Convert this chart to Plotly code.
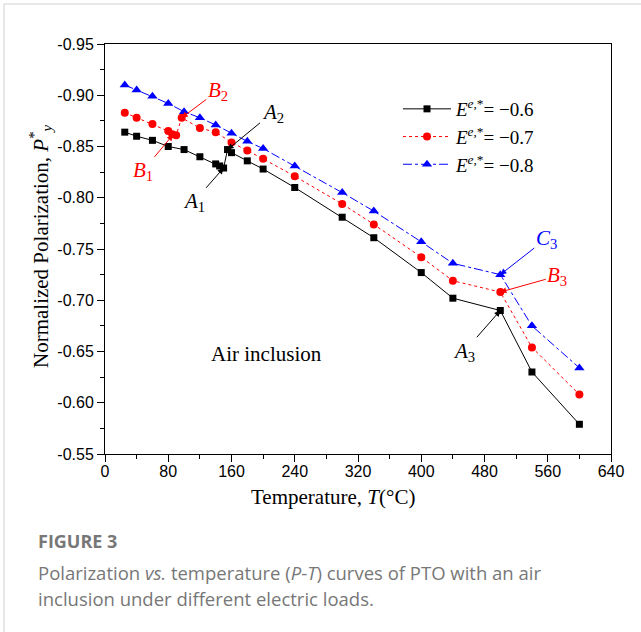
import plotly.graph_objects as go

# ---------------- data ----------------
T_a = [25, 40, 60, 80, 100, 120, 140, 145, 150, 155, 160, 180, 200, 240, 300, 340, 400, 440, 500, 540, 600]
P_a = [-0.864, -0.860, -0.856, -0.850, -0.847, -0.840, -0.833, -0.831, -0.829, -0.847, -0.844, -0.836,
       -0.828, -0.810, -0.781, -0.761, -0.727, -0.702, -0.690, -0.630, -0.579]

T_b = [25, 40, 60, 80, 85, 90, 97, 120, 140, 160, 180, 200, 240, 300, 340, 400, 440, 500, 540, 600]
P_b = [-0.883, -0.878, -0.872, -0.865, -0.862, -0.861, -0.878, -0.868, -0.864, -0.854, -0.846, -0.838,
       -0.821, -0.794, -0.774, -0.742, -0.719, -0.708, -0.654, -0.608]

T_c = [25, 40, 60, 80, 100, 120, 140, 160, 180, 200, 240, 300, 340, 400, 440, 500, 540, 600]
P_c = [-0.910, -0.905, -0.899, -0.892, -0.884, -0.878, -0.871, -0.863, -0.855, -0.848, -0.831, -0.805,
       -0.787, -0.757, -0.736, -0.725, -0.675, -0.634]

series_names = ["<i>E</i><sup><i>e</i>,*</sup>= \u22120.6",
                "<i>E</i><sup><i>e</i>,*</sup>= \u22120.7",
                "<i>E</i><sup><i>e</i>,*</sup>= \u22120.8"]

x_ticks = [0, 80, 160, 240, 320, 400, 480, 560, 640]
y_ticks = [-0.95, -0.90, -0.85, -0.80, -0.75, -0.70, -0.65, -0.60, -0.55]

# annotation labels: (text, x, y, ax, ay, color)
labels = [
    ("<i>B</i><sub>1</sub>", 86, -0.8615, -30, 36, "red"),
    ("<i>B</i><sub>2</sub>", 97, -0.878, 36, -27, "red"),
    ("<i>A</i><sub>2</sub>", 155, -0.847, 45, -37, "black"),
    ("<i>A</i><sub>1</sub>", 150, -0.829, -30, 34, "black"),
    ("<i>C</i><sub>3</sub>", 500, -0.725, 46, -36, "blue"),
    ("<i>B</i><sub>3</sub>", 500, -0.708, 57, -16, "red"),
    ("<i>A</i><sub>3</sub>", 500, -0.690, -36, 41, "black"),
]

SERIF = "Liberation Serif"
SANS = "Liberation Sans"
CAP = "Open Sans"

W, H = 641, 632
L, R, TOP, BOT = 105, 611, 44, 454


def px(x):
    return (x - L) / (R - L)


def py(y):
    return (BOT - y) / (BOT - TOP)


fig = go.Figure()
fig.add_trace(go.Scatter(x=T_a, y=P_a, mode="lines+markers", name=series_names[0],
                         line=dict(color="black", width=1),
                         marker=dict(symbol="square", size=7, color="black")))
fig.add_trace(go.Scatter(x=T_b, y=P_b, mode="lines+markers", name=series_names[1],
                         line=dict(color="red", width=1, dash="dot"),
                         marker=dict(symbol="circle", size=8, color="red")))
fig.add_trace(go.Scatter(x=T_c, y=P_c, mode="lines+markers", name=series_names[2],
                         line=dict(color="blue", width=1, dash="dashdot"),
                         marker=dict(symbol="triangle-up", size=9, color="blue")))

for text, x, y, ax, ay, col in labels:
    fig.add_annotation(x=x, y=y, xref="x", yref="y", text=text, showarrow=True,
                       ax=ax, ay=ay, arrowhead=2, arrowsize=1.2, arrowwidth=1,
                       arrowcolor=col, font=dict(family=SERIF, size=21, color=col))

fig.add_annotation(x=204, y=-0.648, xref="x", yref="y", text="Air inclusion", showarrow=False,
                   font=dict(family=SERIF, size=21, color="black"))

# axis titles
fig.add_annotation(x=px(333), y=py(497), xref="paper", yref="paper", text="Temperature, <i>T</i>(°C)",
                   xanchor="center", yanchor="middle",
                   showarrow=False, font=dict(family=SERIF, size=21, color="black"))
fig.add_annotation(x=px(40), y=py(246), xref="paper", yref="paper",
                   text="Normalized Polarization, <i>P</i><sup>*</sup><sub><i>y</i></sub>",
                   xanchor="center", yanchor="middle",
                   textangle=-90, showarrow=False, font=dict(family=SERIF, size=21, color="black"))

# caption
fig.add_annotation(x=px(36), y=py(541), xref="paper", yref="paper", text="<b>FIGURE 3</b>",
                   xanchor="left", yanchor="middle",
                   showarrow=False, font=dict(family=CAP, size=18, color="#777777"))
fig.add_annotation(x=px(36), y=py(572), xref="paper", yref="paper",
                   text="Polarization <i>vs.</i> temperature (<i>P</i>-<i>T</i>) curves of PTO with an air",
                   xanchor="left", yanchor="middle", showarrow=False,
                   font=dict(family=CAP, size=18.5, color="#777777"))
fig.add_annotation(x=px(36), y=py(598), xref="paper", yref="paper",
                   text="inclusion under different electric loads.",
                   xanchor="left", yanchor="middle", showarrow=False,
                   font=dict(family=CAP, size=18.5, color="#777777"))

fig.update_layout(
    width=W, height=H,
    margin=dict(l=L, r=W - R, t=TOP, b=H - BOT),
    paper_bgcolor="white", plot_bgcolor="white",
    showlegend=True,
    legend=dict(x=px(398), y=py(90), xanchor="left", yanchor="top", bgcolor="rgba(0,0,0,0)",
                itemwidth=48,
                font=dict(family=SERIF, size=19, color="black"), tracegroupgap=0),
)

fig.update_xaxes(range=[0, 640], tickvals=x_ticks, ticktext=[str(v) for v in x_ticks],
                 showline=True, linecolor="black", linewidth=1, mirror=True,
                 ticks="outside", ticklen=7, tickcolor="black", showgrid=False, zeroline=False,
                 tickfont=dict(family=SANS, size=16, color="black"), ticklabelstandoff=-4,
                 minor=dict(ticks="outside", ticklen=4, dtick=40, tickcolor="black", showgrid=False))
fig.update_yaxes(range=[-0.55, -0.95], tickvals=y_ticks, ticktext=["%.2f" % v for v in y_ticks],
                 showline=True, linecolor="black", linewidth=1, mirror=True,
                 ticks="outside", ticklen=7, tickcolor="black", showgrid=False, zeroline=False,
                 tickfont=dict(family=SANS, size=16, color="black"),
                 minor=dict(ticks="outside", ticklen=4, dtick=0.025, tickcolor="black", showgrid=False))

# light frame of the card
fig.add_shape(type="line", xref="paper", yref="paper", x0=px(4), x1=px(641),
              y0=py(4), y1=py(4), line=dict(color="#d0d0d0", width=1))
fig.add_shape(type="line", xref="paper", yref="paper", x0=px(4), x1=px(4),
              y0=py(4), y1=py(640), line=dict(color="#d0d0d0", width=1))

fig.write_html("out.html", config={"displayModeBar": False},
               post_script="document.body.style.margin='0px';")
